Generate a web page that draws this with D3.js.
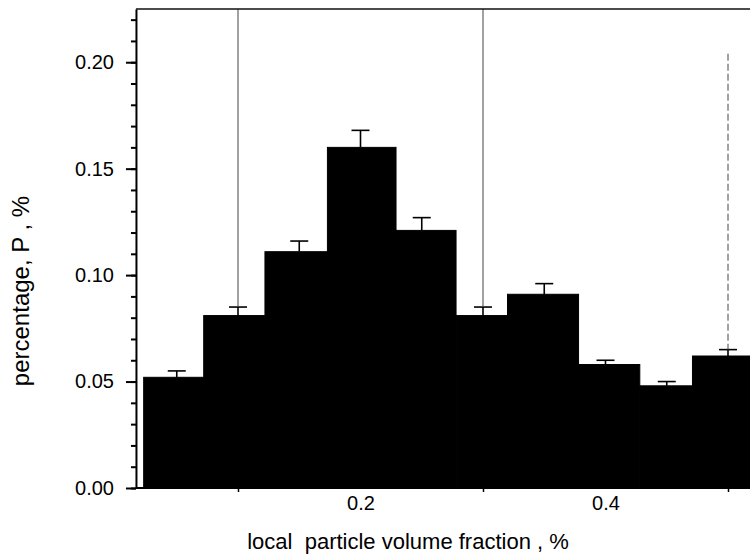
<!DOCTYPE html>
<html>
<head>
<meta charset="utf-8">
<script src="https://cdn.jsdelivr.net/npm/d3@7.9.0/dist/d3.min.js"></script>
<style>
  html, body { margin: 0; padding: 0; background: #fff; }
  svg { display: block; font-family: 'Liberation Sans', Arial, sans-serif; }
</style>
</head>
<body>
<div id="chart"></div>
<script>
// bin centres, edges, heights and upper errors
const binCenters = [0.05, 0.10, 0.15, 0.20, 0.25, 0.30, 0.35, 0.40, 0.45, 0.50];
const binLeft = [0.023, 0.072, 0.122, 0.173, 0.229, 0.278, 0.320, 0.378, 0.428, 0.471];
const binRight = [0.072, 0.122, 0.173, 0.229, 0.278, 0.320, 0.378, 0.428, 0.471, 0.530];
const percentage = [0.052, 0.081, 0.111, 0.160, 0.121, 0.081, 0.091, 0.058, 0.048, 0.062];
const errUp = [0.003, 0.004, 0.005, 0.008, 0.006, 0.004, 0.005, 0.002, 0.002, 0.003];

// the faint vertical lines in the scan, [x, from y value]
const guideX = [0.1, 0.3, 0.5];
const guideTop = [0.225, 0.225, 0.204];

const yMajor = [0, 0.05, 0.10, 0.15, 0.20];
const yMinor = d3.range(0, 0.2201, 0.01);
const xLabelTicks = [0.2, 0.4];
const xMinorTicks = [0.1, 0.3, 0.5];

const width = 750;
const height = 558;

const svg = d3.select('#chart')
  .append('svg')
  .attr('width', width)
  .attr('height', height);

const xScale = d3.scaleLinear().domain([0, 0.5]).range([115.5, 728]);
const yScale = d3.scaleLinear().domain([0, 0.225]).range([488, 9]);

const xLeft = 0.0167;
const xEnd = 0.56;

const rows = binCenters.map((c, i) => ({
  c,
  x0: binLeft[i],
  x1: binRight[i],
  v: percentage[i],
  e: errUp[i],
}));

// bars
svg.selectAll('rect.bar')
  .data(rows)
  .enter()
  .append('rect')
  .attr('class', 'bar')
  .attr('x', (d) => xScale(d.x0))
  .attr('y', (d) => yScale(d.v))
  .attr('width', (d) => xScale(d.x1) - xScale(d.x0))
  .attr('height', (d) => yScale(0) - yScale(d.v))
  .attr('fill', '#000')
  .attr('stroke', '#000')
  .attr('stroke-width', 1);

// error bars (upper only)
const err = svg.append('g').attr('stroke', '#000').attr('stroke-width', 1.6);
err.selectAll('line.stem')
  .data(rows)
  .enter()
  .append('line')
  .attr('x1', (d) => xScale(d.c))
  .attr('x2', (d) => xScale(d.c))
  .attr('y1', (d) => yScale(d.v))
  .attr('y2', (d) => yScale(d.v + d.e));
err.selectAll('line.cap')
  .data(rows)
  .enter()
  .append('line')
  .attr('x1', (d) => xScale(d.c) - 9)
  .attr('x2', (d) => xScale(d.c) + 9)
  .attr('y1', (d) => yScale(d.v + d.e))
  .attr('y2', (d) => yScale(d.v + d.e));

// vertical guide lines from the scan
guideX.forEach((gx, i) => {
  const r = rows.find((d) => Math.abs(d.c - gx) < 1e-6);
  svg.append('line')
    .attr('x1', xScale(gx))
    .attr('x2', xScale(gx))
    .attr('y1', yScale(guideTop[i]))
    .attr('y2', yScale(r.v + r.e))
    .attr('stroke', '#444')
    .attr('stroke-width', 1)
    .attr('stroke-dasharray', i === 2 ? '7,3' : null);
});

// top frame
svg.append('line')
  .attr('x1', xScale(xLeft))
  .attr('x2', xScale(xEnd))
  .attr('y1', yScale(0.225))
  .attr('y2', yScale(0.225))
  .attr('stroke', '#111')
  .attr('stroke-width', 1.5);

// y axis: minor then major ticks with labels
const yMinorAxis = svg.append('g')
  .attr('transform', `translate(${xScale(xLeft)},0)`)
  .call(d3.axisLeft(yScale).tickValues(yMinor).tickSize(5).tickFormat(''));
yMinorAxis.select('.domain').remove();

const yAxis = svg.append('g')
  .attr('transform', `translate(${xScale(xLeft)},0)`)
  .call(d3.axisLeft(yScale).tickValues(yMajor).tickSize(10).tickPadding(12)
    .tickFormat(d3.format('.2f')).tickSizeOuter(0));

yAxis.selectAll('text')
  .attr('fill', '#000')
  .style('font-size', '20px')
  .style('font-family', "'Liberation Sans', Arial, sans-serif");

// x axis
const xMinorAxis = svg.append('g')
  .attr('transform', `translate(0,${yScale(0)})`)
  .call(d3.axisBottom(xScale).tickValues(xMinorTicks).tickSize(4).tickFormat(''));
xMinorAxis.select('.domain').remove();

const xAxis = svg.append('g')
  .attr('transform', `translate(0,${yScale(0)})`)
  .call(d3.axisBottom(xScale).tickValues(xLabelTicks).tickSize(0).tickPadding(8)
    .tickFormat(d3.format('.1f')));

xAxis.select('.domain')
  .attr('d', `M${xScale(xLeft)},0H${xScale(xEnd)}`);

xAxis.selectAll('text')
  .attr('fill', '#000')
  .style('font-size', '20px')
  .style('font-family', "'Liberation Sans', Arial, sans-serif");

svg.selectAll('.domain, .tick line')
  .attr('stroke', '#000')
  .attr('stroke-width', 2);

xMinorAxis.selectAll('.tick line').attr('stroke-width', 1.5);

// axis titles
svg.append('text')
  .attr('x', 408)
  .attr('y', 549)
  .attr('text-anchor', 'middle')
  .style('font-size', '22px')
  .style('white-space', 'pre')
  .text('local  particle volume fraction , %');

svg.append('text')
  .attr('transform', 'translate(29,291) rotate(-90)')
  .attr('text-anchor', 'middle')
  .style('font-size', '24px')
  .style('white-space', 'pre')
  .text('percentage, P , %');
</script>
</body>
</html>
